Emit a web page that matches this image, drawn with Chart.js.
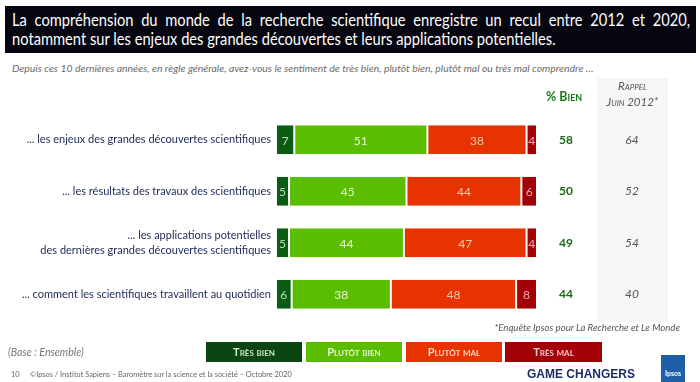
<!DOCTYPE html>
<html>
<head>
<meta charset="utf-8">
<script src="https://cdn.jsdelivr.net/npm/chart.js@4"></script>
<style>
  html, body { margin:0; padding:0; background:#fff; }
  #wrap { position:relative; width:700px; height:382px; overflow:hidden; font-family: Lato, "Open Sans", sans-serif; }
  #c { position:absolute; left:0; top:0; }
  .abs { position:absolute; white-space:nowrap; }
  #titlebox { position:absolute; left:5px; top:6px; width:691px; height:47px; background:#05060f; overflow:hidden; }
  #t1 { position:absolute; left:7px; top:5px; width:762px; color:#fff; font-size:16.5px; text-align:justify; text-align-last:justify; line-height:19px; transform:scaleX(0.89); transform-origin:0 0; white-space:nowrap; }
  #t2 { position:absolute; left:7px; top:24px; color:#fff; font-size:16.5px; line-height:19px; transform:scaleX(0.89); transform-origin:0 0; white-space:nowrap; }
  #sub { left:12px; top:62px; font-size:10.4px; font-style:italic; color:#6a6a6a; }
  #greycol { position:absolute; left:597px; top:78px; width:71px; height:244px; background:#f6f6f6; }
  #pb { left:546px; top:89px; font-size:12.5px; font-weight:bold; color:#1b7a1b; font-variant:small-caps; }
  #rap { left:597px; top:78px; width:71px; text-align:center; font-size:11.5px; font-style:italic; color:#555; font-variant:small-caps; line-height:16px; }
  #note { right:20px; top:322px; font-size:9.6px; font-style:italic; color:#555; }
  #base { left:8px; top:346px; font-size:10.6px; font-style:italic; color:#777; }
  .leg { position:absolute; top:342px; height:20px; line-height:20px; text-align:center; font-size:11px; font-weight:bold; font-variant:small-caps; }
  #foot { left:11px; top:370px; font-size:7.4px; color:#666; }
  #foot2 { left:30px; top:370px; font-size:7.4px; color:#666; }
  #gc { left:527px; top:367px; font-size:12px; font-weight:900; color:#1c2c6b; font-family:"Liberation Sans", Arial, sans-serif; }
  #logo { position:absolute; left:661px; top:355px; width:24px; height:27px; background:#1f5fa8; color:#fff; font-size:7px; text-align:center; line-height:36px; font-weight:bold; }
</style>
</head>
<body>
<div id="wrap">
  <div id="titlebox">
    <div id="t1">La compréhension du monde de la recherche scientifique enregistre un recul entre 2012 et 2020,</div>
    <div id="t2">notamment sur les enjeux des grandes découvertes et leurs applications potentielles.</div>
  </div>
  <div id="sub" class="abs">Depuis ces 10 dernières années, en règle générale, avez-vous le sentiment de très bien, plutôt bien, plutôt mal ou très mal comprendre …</div>
  <div id="greycol"></div>
  <canvas id="c" width="700" height="382"></canvas>
  <div id="pb" class="abs">% Bien</div>
  <div id="rap" class="abs">Rappel<br>Juin 2012*</div>
  <div id="note" class="abs">*Enquête Ipsos pour La Recherche et Le Monde</div>
  <div id="base" class="abs">(Base : Ensemble)</div>
  <div id="legend"></div>
  <div id="foot" class="abs">10</div>
  <div id="foot2" class="abs">©Ipsos / Institut Sapiens – Baromètre sur la science et la société – Octobre 2020</div>
  <div id="gc" class="abs">GAME CHANGERS</div>
  <div id="logo">Ipsos</div>
</div>
<script>
// ---- data ----
const categories = [
  ["... les enjeux des grandes découvertes scientifiques"],
  ["... les résultats des travaux des scientifiques"],
  ["... les applications potentielles", "des dernières grandes découvertes scientifiques"],
  ["... comment les scientifiques travaillent au quotidien"]
];
const seriesNames = ["Très bien", "Plutôt bien", "Plutôt mal", "Très mal"];
const tresBien   = [7, 5, 5, 6];
const plutotBien = [51, 45, 44, 38];
const plutotMal  = [38, 44, 47, 48];
const tresMal    = [4, 6, 4, 8];
const pctBien    = [58, 50, 49, 44];
const rappel2012 = [64, 52, 54, 40];

const colors = ["#0b5c12", "#5bbd00", "#e63300", "#a30008"];
const legendColors = ["#0a4512", "#5bbd00", "#e63300", "#a30008"];
const legendText = ["#cfe6c8", "#eaf6d8", "#fbd9c4", "#f4c8c8"];
const legendBoxes = [[206, 96], [306, 96], [406, 96], [505, 97]];

// legend (HTML)
const lg = document.getElementById('legend');
seriesNames.forEach((n, i) => {
  const d = document.createElement('div');
  d.className = 'leg';
  d.style.left = legendBoxes[i][0] + 'px';
  d.style.width = legendBoxes[i][1] + 'px';
  d.style.background = legendColors[i];
  d.style.color = legendText[i];
  d.textContent = n;
  lg.appendChild(d);
});

const seriesData = [tresBien, plutotBien, plutotMal, tresMal];

const labelsPlugin = {
  id: 'customLabels',
  afterDatasetsDraw(chart) {
    const ctx = chart.ctx;
    const ys = chart.scales.y;
    ctx.save();
    // segment values
    chart.data.datasets.forEach((ds, di) => {
      const meta = chart.getDatasetMeta(di);
      meta.data.forEach((bar, i) => {
        const v = ds.data[i];
        const cx = (bar.x + bar.base) / 2;
        ctx.font = '12px Lato, sans-serif';
        ctx.fillStyle = di === 0 ? 'rgba(220,240,215,0.85)' : (di === 1 ? 'rgba(245,252,230,0.9)' : (di === 2 ? 'rgba(255,215,190,0.9)' : 'rgba(245,190,195,0.9)'));
        ctx.textAlign = 'center';
        ctx.textBaseline = 'middle';
        ctx.fillText(String(v), cx, bar.y + 1);
      });
    });
    // category labels
    ctx.fillStyle = '#1c2858';
    ctx.font = '11px Lato, sans-serif';
    ctx.textAlign = 'right';
    categories.forEach((lines, i) => {
      const y = ys.getPixelForValue(i);
      const n = lines.length;
      lines.forEach((l, k) => {
        ctx.fillText(l, 271, y + (k - (n - 1) / 2) * 15);
      });
    });
    // % bien and rappel
    categories.forEach((_, i) => {
      const y = ys.getPixelForValue(i);
      ctx.textAlign = 'center';
      ctx.font = 'bold 12px Lato, sans-serif';
      ctx.fillStyle = '#176b17';
      ctx.fillText(String(pctBien[i]), 566, y);
      ctx.font = 'italic 12px Lato, sans-serif';
      ctx.fillStyle = '#555';
      ctx.fillText(String(rappel2012[i]), 632, y);
    });
    ctx.restore();
  }
};

new Chart(document.getElementById('c'), {
  type: 'bar',
  data: {
    labels: categories.map(c => c.join(' ')),
    datasets: seriesNames.map((n, i) => ({
      label: n,
      data: seriesData[i],
      backgroundColor: colors[i],
      borderColor: 'rgba(255,255,255,0.85)',
      borderWidth: { left: 1, right: 1, top: 0, bottom: 0 },
      borderSkipped: false,
      barPercentage: 0.56,
      categoryPercentage: 1
    }))
  },
  options: {
    indexAxis: 'y',
    responsive: false,
    animation: false,
    events: [],
    layout: { padding: { left: 276, right: 163, top: 114, bottom: 62 } },
    plugins: { legend: { display: false }, tooltip: { enabled: false } },
    scales: {
      x: { stacked: true, min: 0, max: 100, display: false },
      y: { stacked: true, display: false }
    }
  },
  plugins: [labelsPlugin]
});
</script>
</body>
</html>
